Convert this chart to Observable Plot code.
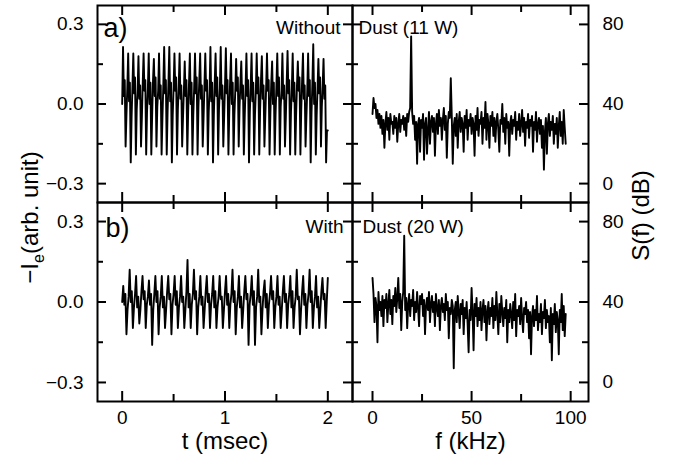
<!DOCTYPE html>
<html><head><meta charset="utf-8">
<script src="https://cdn.jsdelivr.net/npm/d3@7"></script>
<script src="https://cdn.jsdelivr.net/npm/@observablehq/plot@0.6"></script>
<style>
html,body{margin:0;padding:0;background:#fff;}
#chart{width:674px;height:459px;overflow:hidden;}
</style></head><body><div id="chart"></div>
<script>
// ---------- DATA ----------
// time series: uniform sampling over 0..2 msec
const tStepA = 2 / 240;   // msec per sample, panel a
const tStepB = 2 / 192;   // msec per sample, panel b
// -I_e, without dust (11 W): per cycle peak, inner wiggles, trough, inner wiggles
const currentA = [0.0,
 0.215,0.03,0.09,-0.16,-0.04,0.06, 0.19,0.01,0.08,-0.22,-0.05,0.07, 0.19,0.04,0.10,-0.19,-0.02,0.05,
 0.18,0.02,0.07,-0.16,-0.05,0.08, 0.19,0.05,0.09,-0.19,-0.03,0.06, 0.19,0.00,0.08,-0.19,-0.04,0.09,
 0.17,0.03,0.10,-0.16,-0.01,0.05, 0.19,0.02,0.07,-0.19,-0.05,0.07, 0.215,0.04,0.09,-0.19,-0.03,0.08,
 0.215,0.01,0.08,-0.22,-0.04,0.06, 0.19,0.05,0.10,-0.19,-0.02,0.07, 0.19,0.02,0.07,-0.16,-0.05,0.05,
 0.16,0.03,0.09,-0.19,-0.03,0.08, 0.19,0.00,0.08,-0.19,-0.04,0.06, 0.19,0.04,0.10,-0.19,-0.01,0.09,
 0.19,0.02,0.07,-0.16,-0.05,0.07, 0.19,0.05,0.09,-0.19,-0.03,0.05, 0.215,0.01,0.08,-0.22,-0.04,0.08,
 0.19,0.03,0.10,-0.19,-0.02,0.06, 0.215,0.02,0.07,-0.16,-0.05,0.07, 0.21,0.04,0.09,-0.19,-0.03,0.09,
 0.19,0.00,0.08,-0.19,-0.04,0.05, 0.17,0.05,0.10,-0.16,-0.01,0.08, 0.16,0.02,0.07,-0.19,-0.05,0.06,
 0.19,0.03,0.09,-0.22,-0.03,0.07, 0.19,0.01,0.08,-0.19,-0.04,0.05, 0.19,0.04,0.10,-0.19,-0.02,0.09,
 0.18,0.02,0.07,-0.16,-0.05,0.06, 0.19,0.05,0.09,-0.19,-0.03,0.08, 0.16,0.00,0.08,-0.19,-0.04,0.07,
 0.19,0.03,0.10,-0.19,-0.01,0.05, 0.19,0.02,0.07,-0.16,-0.05,0.08, 0.20,0.04,0.09,-0.19,-0.03,0.06,
 0.19,0.01,0.08,-0.19,-0.04,0.07, 0.16,0.05,0.10,-0.19,-0.02,0.09, 0.19,0.02,0.07,-0.16,-0.05,0.05,
 0.19,0.03,0.09,-0.22,-0.03,0.08, 0.225,0.00,0.08,-0.19,-0.04,0.06, 0.17,0.04,0.10,-0.16,-0.01,0.07,
 0.17,0.02,0.07,-0.22,-0.10,-0.10];
// -I_e, with dust (20 W)
const currentB = [0.0,
 0.06,-0.01,0.03,-0.12,-0.03,0.02, 0.12,0.00,0.04,-0.097,-0.02,0.03, 0.097,-0.02,0.02,-0.08,-0.03,0.04,
 0.097,0.01,0.04,-0.097,-0.01,0.02, 0.08,-0.01,0.03,-0.16,-0.03,0.03, 0.097,0.00,0.04,-0.12,-0.02,0.02,
 0.097,-0.02,0.02,-0.097,-0.03,0.04, 0.097,0.01,0.03,-0.12,-0.01,0.03, 0.097,-0.01,0.04,-0.097,-0.02,0.02,
 0.097,0.00,0.02,-0.097,-0.03,0.04, 0.157,-0.02,0.03,-0.097,-0.01,0.03, 0.12,0.01,0.04,-0.12,-0.02,0.02,
 0.097,-0.01,0.02,-0.097,-0.03,0.04, 0.097,0.00,0.03,-0.097,-0.01,0.03, 0.097,-0.02,0.04,-0.097,-0.02,0.02,
 0.097,0.01,0.02,-0.097,-0.03,0.04, 0.097,-0.01,0.03,-0.097,-0.01,0.03, 0.12,0.00,0.04,-0.12,-0.02,0.02,
 0.097,-0.02,0.02,-0.097,-0.03,0.04, 0.097,0.01,0.03,-0.16,-0.01,0.03, 0.097,-0.01,0.04,-0.16,-0.02,0.02,
 0.12,0.00,0.02,-0.12,-0.03,0.04, 0.08,-0.02,0.03,-0.097,-0.01,0.03, 0.097,0.01,0.04,-0.097,-0.02,0.02,
 0.097,-0.01,0.02,-0.097,-0.03,0.04, 0.097,0.00,0.03,-0.097,-0.01,0.03, 0.097,-0.02,0.04,-0.097,-0.02,0.02,
 0.12,0.01,0.02,-0.12,-0.03,0.04, 0.097,-0.01,0.03,-0.097,-0.01,0.03, 0.12,0.00,0.04,-0.097,-0.02,0.02,
 0.097,-0.02,0.02,-0.097,-0.03,0.04, 0.09,0.01,0.03,-0.097,0.0,0.09];
// spectra: uniform sampling 0..97.5 kHz
const fStep = 0.5; // kHz
const spectrumA = [
 35,43,38,40,33,37,30,35,28,34, 25,32,18,30,36,27,33,22,35,30,
 31,25,34,28,33,21,30,35,26,32, 30,34,27,33,24,35,31,36,38,74,
 36,30,34,22,31,10,30,33,16,32, 28,35,12,30,33,15,27,36,20,31,
 34,26,33,14,30,35,25,37,29,33, 22,32,38,27,34,13,30,36,33,53,
 34,10,29,33,24,35,18,31,36,26, 33,30,16,34,28,37,22,32,29,35,
 25,33,30,14,34,27,38,24,32,30, 36,20,33,28,41,22,35,30,18,34,
 29,36,24,33,21,31,35,27,16,32, 30,40,26,33,20,35,28,31,14,30,
 34,25,32,29,36,22,31,27,35,24, 30,37,26,33,19,31,28,35,23,32,
 29,34,16,31,27,36,21,30,33,25, 32,18,29,7,26,33,15,30,35,24,
 31,27,34,20,30,25,33,18,29,36, 24,31,20,37,28,20];
const spectrumB = [
 52,44,30,42,38,20,45,36,40,33, 43,28,41,37,44,30,39,46,34,41,
 29,43,38,47,35,42,52,37,44,26, 40,45,73,36,42,27,39,44,33,41,
 38,46,31,40,35,45,37,28,43,39, 44,33,41,24,38,42,36,45,30,39,
 43,35,40,28,44,37,33,41,26,38, 42,35,39,31,44,36,40,22,37,34,
 41,38,7,36,40,30,43,35,27,39, 34,41,24,37,32,40,29,15,36,31,
 47,35,16,39,33,42,28,37,31,40, 26,36,41,30,38,21,35,40,29,37,
 33,42,27,38,31,45,34,24,39,30, 43,35,28,37,32,41,20,36,30,39,
 34,27,40,31,44,23,36,33,38,29, 42,32,25,37,34,40,30,36,22,35,
 14,33,38,28,36,31,43,26,34,30, 39,24,35,32,41,27,36,30,33,20,
 37,11,34,29,39,25,35,31,14,36, 30,44,26,38,23,34];
// ticks
const tMajor = [0, 1, 2], tMinor = [0.5, 1.5];
const fMajor = [0, 50, 100], fMinor = [25, 75];
const iMajor = [-0.3, 0, 0.3], iMinor = [-0.15, 0.15];
const sMajor = [0, 40, 80], sMinor = [20, 60];
const panelTexts = {a: "a)", b: "b)", aL: "Without", aR: "Dust (11 W)", bL: "With", bR: "Dust (20 W)"};
const titles = {t: "t (msec)", f: "f (kHz)", i: "\u2212Ie(arb. unit)", s: "S(f) (dB)"};

// ---------- DRAW ----------
const FONT = '"Liberation Sans", Arial, Helvetica, sans-serif';
const fmtI = d => d === 0 ? "0.0" : d.toFixed(1).replace("-", "\u2212");
const fmtN = d => String(d);

// one outer SVG that holds the four Plot charts as nested SVGs
const outer = d3.select("#chart").append("svg")
  .attr("width", 674).attr("height", 459).attr("viewBox", "0 0 674 459")
  .style("display", "block").style("background", "white");

function panel(c) {
  const fw = c.width - c.ml - c.mr, fh = c.height - c.mt - c.mb;
  const [x0, x1] = c.xDomain, [y0, y1] = c.yDomain;
  const kx = (x1 - x0) / fw, ky = (y1 - y0) / fh; // data units per pixel
  const tk = {stroke: "black", strokeWidth: 2};
  const yTicks = (vals, len) => [
    Plot.ruleY(vals, {y: d => d, x1: () => x0, x2: () => x0 + len * kx, ...tk}),
    Plot.ruleY(vals, {y: d => d, x1: () => x1 - len * kx, x2: () => x1, ...tk})
  ];
  const xTicks = (vals, len) => [
    Plot.ruleX(vals, {x: d => d, y1: () => y0, y2: () => y0 + len * ky, ...tk}),
    Plot.ruleX(vals, {x: d => d, y1: () => y1 - len * ky, y2: () => y1, ...tk})
  ];
  const marks = [
    Plot.line(c.data, {x: "x", y: "y", stroke: "black", strokeWidth: 1.9}),
    Plot.frame({stroke: "black", strokeWidth: 2}),
    ...yTicks(c.yMajor, 9), ...yTicks(c.yMinor, 6),
    ...xTicks(c.xMajor, 10), ...xTicks(c.xMinor, 7),
    Plot.axisY({anchor: c.yAnchor, ticks: c.yMajor, tickSize: 0, tickPadding: 14, tickFormat: c.yFmt, fontSize: 19, label: null}),
    ...(c.extra || [])
  ];
  if (c.xLabels) marks.push(Plot.axisX({anchor: "bottom", ticks: c.xMajor, tickSize: 0, tickPadding: 9, tickFormat: fmtN, fontSize: 19, label: null}));
  const svg = Plot.plot({
    width: c.width, height: c.height,
    marginLeft: c.ml, marginRight: c.mr, marginTop: c.mt, marginBottom: c.mb,
    x: {domain: c.xDomain, axis: null},
    y: {domain: c.yDomain, axis: null},
    style: `width:${c.width}px;height:${c.height}px;max-width:none;background:transparent;overflow:visible;color:black;font-family:${FONT};font-size:19px;`,
    marks
  });
  svg.setAttribute("x", c.left);
  svg.setAttribute("y", c.top);
  svg.setAttribute("overflow", "visible");
  outer.node().appendChild(svg);
  return svg;
}

const seriesA = currentA.map((v, i) => ({x: i * tStepA, y: v}));
const seriesB = currentB.map((v, i) => ({x: i * tStepB, y: v}));
const specA = spectrumA.map((v, i) => ({x: i * fStep, y: v}));
const specB = spectrumB.map((v, i) => ({x: i * fStep, y: v}));

const tDom = [-0.24, 2.24], fDom = [-10.1, 109], iDom = [-0.371, 0.371], sDom = [-9.5, 89.5];
const lbl = (t, o) => Plot.text([t], {text: d => d, fill: "black", ...o});

panel({left: 0, top: 0, width: 360, height: 206, ml: 97, mr: 8, mt: 5, mb: 4,
  data: seriesA, xDomain: tDom, yDomain: iDom, xMajor: tMajor, xMinor: tMinor, yMajor: iMajor, yMinor: iMinor,
  yAnchor: "left", yFmt: fmtI,
  extra: [
    lbl(panelTexts.a, {frameAnchor: "top-left", dx: 6, dy: 31, textAnchor: "start", lineAnchor: "bottom", fontSize: 27}),
    lbl(panelTexts.aL, {frameAnchor: "top-right", dx: -12, dy: 28, textAnchor: "end", lineAnchor: "bottom", fontSize: 19})
  ]});
panel({left: 344, top: 0, width: 330, height: 206, ml: 8, mr: 86, mt: 5, mb: 4,
  data: specA, xDomain: fDom, yDomain: sDom, xMajor: fMajor, xMinor: fMinor, yMajor: sMajor, yMinor: sMinor,
  yAnchor: "right", yFmt: fmtN,
  extra: [
    lbl(panelTexts.aR, {frameAnchor: "top-left", dx: 6, dy: 28, textAnchor: "start", lineAnchor: "bottom", fontSize: 19})
  ]});
panel({left: 0, top: 202, width: 360, height: 257, ml: 97, mr: 8, mt: 0, mb: 58,
  data: seriesB, xDomain: tDom, yDomain: iDom, xMajor: tMajor, xMinor: tMinor, yMajor: iMajor, yMinor: iMinor,
  yAnchor: "left", yFmt: fmtI, xLabels: true,
  extra: [
    lbl(panelTexts.b, {frameAnchor: "top-left", dx: 8, dy: 34, textAnchor: "start", lineAnchor: "bottom", fontSize: 27}),
    lbl(panelTexts.bL, {frameAnchor: "top-right", dx: -9, dy: 30, textAnchor: "end", lineAnchor: "bottom", fontSize: 19}),
    lbl(titles.t, {frameAnchor: "bottom", dy: 47, textAnchor: "middle", lineAnchor: "bottom", fontSize: 24}),
    lbl(titles.i, {frameAnchor: "top-left", dx: -60, dy: 15, rotate: -90, textAnchor: "middle", lineAnchor: "bottom", fontSize: 24})
  ]});
panel({left: 344, top: 202, width: 330, height: 257, ml: 8, mr: 86, mt: 0, mb: 58,
  data: specB, xDomain: fDom, yDomain: sDom, xMajor: fMajor, xMinor: fMinor, yMajor: sMajor, yMinor: sMinor,
  yAnchor: "right", yFmt: fmtN, xLabels: true,
  extra: [
    lbl(panelTexts.bR, {frameAnchor: "top-left", dx: 10, dy: 30, textAnchor: "start", lineAnchor: "bottom", fontSize: 19}),
    lbl(titles.f, {frameAnchor: "bottom", dy: 47, textAnchor: "middle", lineAnchor: "bottom", fontSize: 24}),
    lbl(titles.s, {frameAnchor: "top-right", dx: 60, dy: 13, rotate: -90, textAnchor: "middle", lineAnchor: "bottom", fontSize: 24})
  ]});

// subscript "e" in the left axis title
d3.selectAll("#chart text").filter(function () { return this.textContent === titles.i; }).each(function () {
  const t = d3.select(this);
  t.text(null);
  t.append("tspan").text("\u2212I");
  t.append("tspan").attr("dy", 6).attr("font-size", 16).text("e");
  t.append("tspan").attr("dy", -6).text("(arb. unit)");
});
</script></body></html>
